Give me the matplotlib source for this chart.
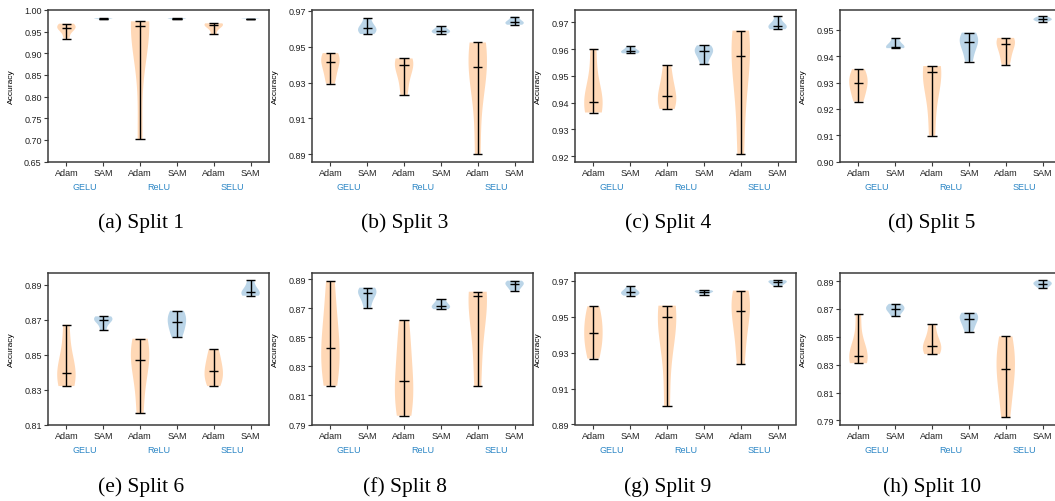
import matplotlib
matplotlib.use('Agg')
import matplotlib.pyplot as plt

# order in every split: GELU-Adam, GELU-SAM, ReLU-Adam, ReLU-SAM, SELU-Adam, SELU-SAM
split1 = [[0.9337, 0.9550, 0.9584, 0.9630, 0.9684],
          [0.9785, 0.9795, 0.9800, 0.9803, 0.9810],
          [0.7009, 0.9560, 0.9622, 0.9700, 0.9738],
          [0.9785, 0.9795, 0.9800, 0.9805, 0.9812],
          [0.9437, 0.9600, 0.9660, 0.9675, 0.9692],
          [0.9790, 0.9795, 0.9797, 0.9800, 0.9803]]
split3 = [[0.9294, 0.9360, 0.9413, 0.9440, 0.9464],
          [0.9570, 0.9585, 0.9601, 0.9615, 0.9659],
          [0.9231, 0.9330, 0.9399, 0.9420, 0.9434],
          [0.9573, 0.9580, 0.9588, 0.9595, 0.9614],
          [0.8902, 0.9300, 0.9384, 0.9480, 0.9523],
          [0.9622, 0.9628, 0.9635, 0.9645, 0.9667]]
split4 = [[0.9363, 0.9380, 0.9403, 0.9460, 0.9601],
          [0.9584, 0.9588, 0.9591, 0.9598, 0.9610],
          [0.9376, 0.9400, 0.9426, 0.9470, 0.9539],
          [0.9543, 0.9575, 0.9591, 0.9600, 0.9614],
          [0.9208, 0.9450, 0.9574, 0.9640, 0.9669],
          [0.9674, 0.9680, 0.9686, 0.9695, 0.9722]]
split5 = [[0.9228, 0.9270, 0.9299, 0.9320, 0.9351],
          [0.9431, 0.9433, 0.9436, 0.9450, 0.9470],
          [0.9098, 0.9250, 0.9340, 0.9355, 0.9363],
          [0.9380, 0.9430, 0.9454, 0.9470, 0.9490],
          [0.9368, 0.9410, 0.9448, 0.9460, 0.9470],
          [0.9532, 0.9538, 0.9541, 0.9545, 0.9552]]
split6 = [[0.8320, 0.8360, 0.8396, 0.8480, 0.8671],
          [0.8640, 0.8685, 0.8700, 0.8710, 0.8719],
          [0.8163, 0.8380, 0.8470, 0.8540, 0.8591],
          [0.8598, 0.8650, 0.8686, 0.8720, 0.8751],
          [0.8320, 0.8370, 0.8404, 0.8460, 0.8532],
          [0.8837, 0.8845, 0.8856, 0.8880, 0.8925]]
split8 = [[0.8167, 0.8320, 0.8429, 0.8600, 0.8889],
          [0.8705, 0.8770, 0.8808, 0.8825, 0.8843],
          [0.7960, 0.8080, 0.8197, 0.8400, 0.8620],
          [0.8695, 0.8705, 0.8716, 0.8735, 0.8764],
          [0.8162, 0.8500, 0.8783, 0.8800, 0.8815],
          [0.8822, 0.8850, 0.8866, 0.8880, 0.8891]]
split9 = [[0.9267, 0.9350, 0.9412, 0.9480, 0.9559],
          [0.9618, 0.9628, 0.9637, 0.9645, 0.9670],
          [0.9002, 0.9350, 0.9499, 0.9540, 0.9562],
          [0.9624, 0.9634, 0.9640, 0.9644, 0.9648],
          [0.9235, 0.9420, 0.9531, 0.9600, 0.9646],
          [0.9672, 0.9685, 0.9693, 0.9700, 0.9704]]
split10 = [[0.8311, 0.8330, 0.8362, 0.8420, 0.8661],
           [0.8646, 0.8685, 0.8701, 0.8715, 0.8737],
           [0.8376, 0.8400, 0.8436, 0.8480, 0.8589],
           [0.8536, 0.8590, 0.8630, 0.8650, 0.8673],
           [0.7922, 0.8150, 0.8266, 0.8380, 0.8503],
           [0.8850, 0.8870, 0.8881, 0.8890, 0.8905]]

optimizers = ['Adam', 'SAM', 'Adam', 'SAM', 'Adam', 'SAM']
activations = ['GELU', 'ReLU', 'SELU']
captions = ['(a) Split 1', '(b) Split 3', '(c) Split 4', '(d) Split 5',
            '(e) Split 6', '(f) Split 8', '(g) Split 9', '(h) Split 10']

yticks = [[0.65, 0.70, 0.75, 0.80, 0.85, 0.90, 0.95, 1.00],
          [0.89, 0.91, 0.93, 0.95, 0.97],
          [0.92, 0.93, 0.94, 0.95, 0.96, 0.97],
          [0.90, 0.91, 0.92, 0.93, 0.94, 0.95],
          [0.81, 0.83, 0.85, 0.87, 0.89],
          [0.79, 0.81, 0.83, 0.85, 0.87, 0.89],
          [0.89, 0.91, 0.93, 0.95, 0.97],
          [0.79, 0.81, 0.83, 0.85, 0.87, 0.89]]
ylims = [(0.65, 1.00), (0.886, 0.9704), (0.918, 0.9746), (0.90, 0.9576),
         (0.81, 0.8967), (0.79, 0.8944), (0.89, 0.9744), (0.7871, 0.8958)]

splits = [split1, split3, split4, split5, split6, split8, split9, split10]

W, H = 1055, 502
fig = plt.figure(figsize=(W / 100, H / 100), dpi=100)
plt.rcParams['font.family'] = 'Liberation Sans'

lefts = [48, 312, 575, 840]
tops = [11, 274]
cap_x = [141, 405, 668, 932]
cap_y = [223, 487]
aw, ah = 221, 151.5
spine_col = '#3a3a3a'
group_col = '#2b86c5'

for k, data in enumerate(splits):
    r, c = divmod(k, 4)
    ax = fig.add_axes([lefts[c] / W, (H - tops[r] - ah) / H, aw / W, ah / H])
    pos = list(range(1, 7))
    parts = ax.violinplot(data, positions=pos, widths=0.5,
                          showmedians=True, showextrema=True)
    for i, body in enumerate(parts['bodies']):
        body.set_facecolor('C1' if i % 2 == 0 else 'C0')
        body.set_edgecolor('none')
        body.set_alpha(0.3)
    for key in ['cmins', 'cmaxes', 'cbars', 'cmedians']:
        parts[key].set_color('k')
        parts[key].set_linewidth(1.0)

    ax.set_xlim(0.5, 6.5)
    ax.set_ylim(*ylims[k])
    ax.set_xticks(pos)
    ax.set_xticklabels(optimizers)
    ax.set_yticks(yticks[k])
    ax.set_yticklabels(['%.2f' % v for v in yticks[k]])
    ax.tick_params(labelsize=6.5, length=3, width=0.8, pad=1.5,
                   color=spine_col, labelcolor='#222222')
    for s in ax.spines.values():
        s.set_color(spine_col)
        s.set_linewidth(1.1)
    ax.set_ylabel('Accuracy', fontsize=6)
    ax.yaxis.set_label_coords(-33 / aw, 0.5)

    for j, name in enumerate(activations):
        ax.text(1.5 + 2 * j, -25 / ah, name, transform=ax.get_xaxis_transform(),
                ha='center', va='center', fontsize=6.5, color=group_col)

    fig.text(cap_x[c] / W, 1 - cap_y[r] / H, captions[k], ha='center', va='center',
             fontsize=15.5, family='Liberation Serif')

plt.savefig('out.png', dpi=100)
